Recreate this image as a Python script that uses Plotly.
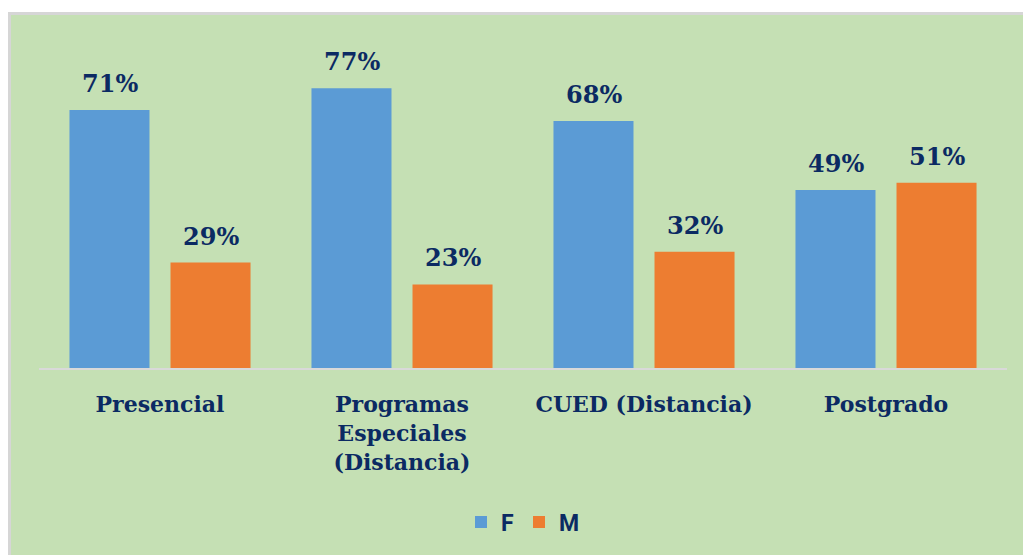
import plotly.graph_objects as go

categories = ["Presencial", "Programas<br>Especiales<br>(Distancia)", "CUED (Distancia)", "Postgrado"]
f_values = [71, 77, 68, 49]
m_values = [29, 23, 32, 51]

NAVY = "#0B2A63"
W, H = 1023, 555
L, R, T, B = 39, 16, 30, 187
pw, ph = W - L - R, H - T - B


def px_x(p):
    return (p - L) / pw


def px_y(p):
    return (H - B - p) / ph


fig = go.Figure()
fig.add_trace(go.Bar(x=categories, y=f_values, name="F",
                     marker=dict(color="#5B9BD5", line=dict(width=0))))
fig.add_trace(go.Bar(x=categories, y=m_values, name="M",
                     marker=dict(color="#ED7D31", line=dict(width=0))))

# value labels above each bar (bars sit 50.5 px either side of the category centre)
for vals, shift in ((f_values, -50.5), (m_values, 50.5)):
    for cat, v in zip(categories, vals):
        fig.add_annotation(
            x=cat, y=v, xref="x", yref="y", text=f"<b>{v}%</b>",
            showarrow=False, xshift=shift, yanchor="bottom", yshift=10,
            font=dict(family="DejaVu Serif", size=24, color=NAVY),
        )

# green chart-area box with gray border
fig.add_shape(
    type="rect", xref="paper", yref="paper", layer="below",
    x0=px_x(9.5), x1=px_x(1040), y0=px_y(570), y1=px_y(13.5),
    fillcolor="#C5E0B4", line=dict(color="#D6D6D6", width=3),
)

fig.update_layout(
    width=W, height=H,
    margin=dict(l=L, r=R, t=T, b=B, autoexpand=False),
    paper_bgcolor="white", plot_bgcolor="rgba(0,0,0,0)",
    barmode="group", bargap=0.165, bargroupgap=0.208,
    showlegend=True,
    legend=dict(
        orientation="h", x=0.5, xanchor="center", y=px_y(522), yanchor="middle",
        bgcolor="rgba(0,0,0,0)",
        font=dict(family="Roboto", size=23, color=NAVY, weight="bold"),
        itemwidth=30, traceorder="normal",
    ),
    xaxis=dict(
        showline=True, linecolor="#D9D9D9", linewidth=2,
        ticks="", ticklabelstandoff=16,
        tickfont=dict(family="DejaVu Serif", size=22, color=NAVY, weight="bold"),
        fixedrange=True,
    ),
    yaxis=dict(range=[0, 338 / 3.634], visible=False, showgrid=False, fixedrange=True),
)

fig.write_html("out.html", config={"displayModeBar": False},
               post_script="document.body.style.margin='0';")
